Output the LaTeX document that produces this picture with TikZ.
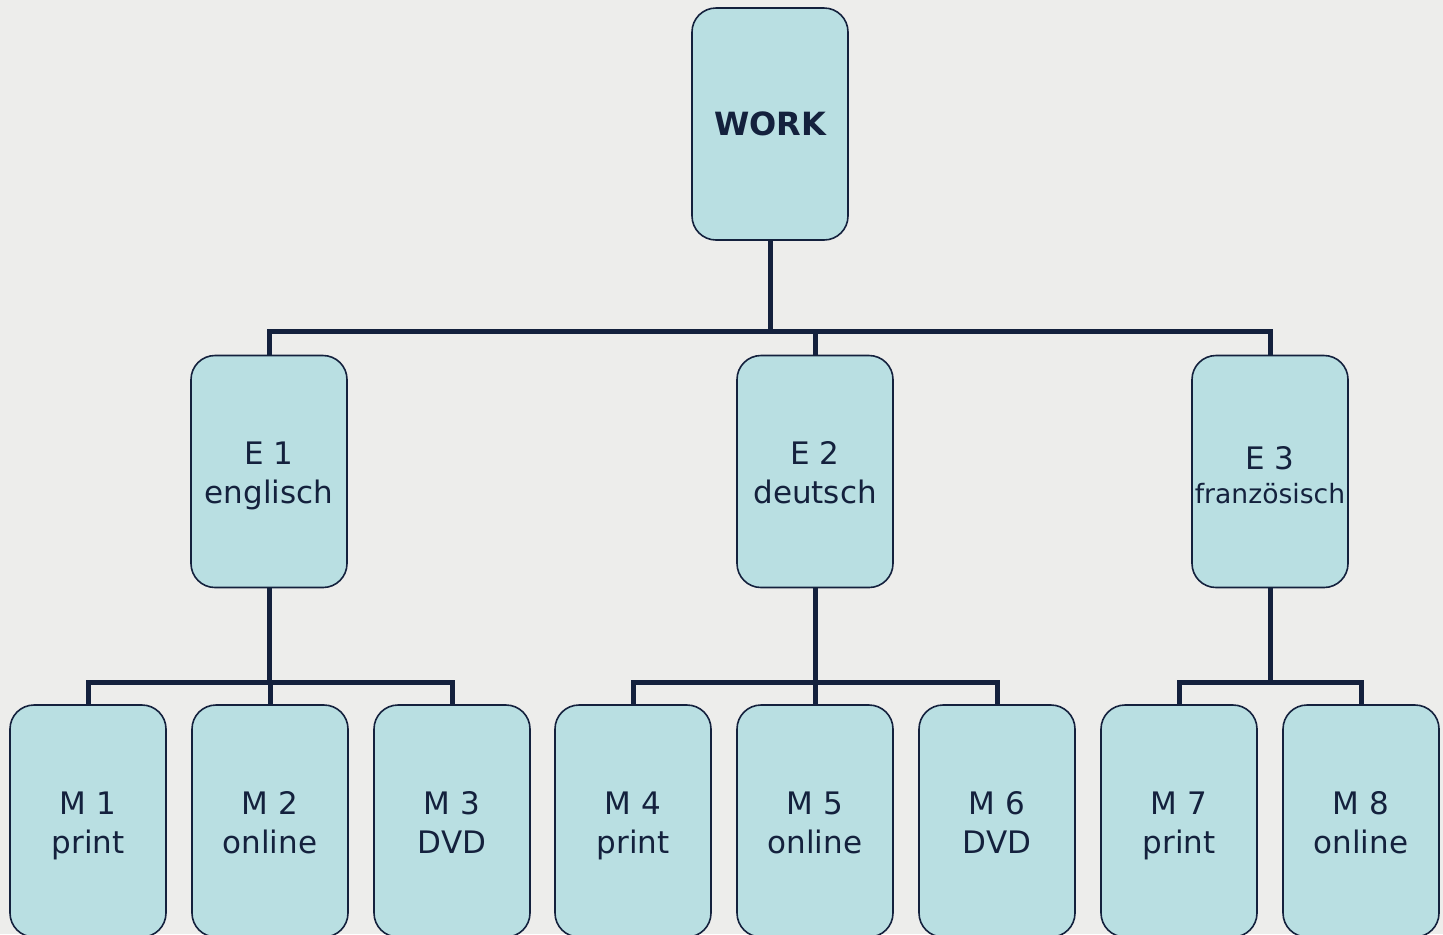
\documentclass[tikz,border=0pt]{standalone}
\usepackage{fontspec}
\setmainfont{DejaVu Sans}
\usetikzlibrary{calc}
\usetikzlibrary{positioning}

\definecolor{paper}{HTML}{EDEDEB}
\definecolor{boxfill}{HTML}{B9DFE2}
\definecolor{navy}{HTML}{14213D}
\newcommand{\topstrut}{\rule{0pt}{18.7pt}}

\begin{document}
\begin{tikzpicture} [x=0.5pt, y=-0.5pt,
  box/.style={draw=navy, line width=0.8pt, fill=boxfill, rounded corners=12pt,
    minimum width=78pt, minimum height=116pt, inner sep=0pt, align=center, text=navy,
    font=\fontsize{15.5}{19.5}\selectfont},
  link/.style={navy, line width=2.5pt}]
\fill[paper] (0,0) rectangle (1443,934);
\useasboundingbox (0,0) rectangle (1443,934);
\clip (0,0) rectangle (1443,934);
% top and second level
\node[box, font=\fontsize{16}{20}\selectfont\bfseries] (work) at (770,124) {WORK};
\node[box] (e1) at (269,471.5) {\topstrut E 1\\englisch\strut};
\node[box] (e2) at (815,471.5) {\topstrut E 2\\deutsch\strut};
\node[box, font=\fontsize{13.3}{17}\selectfont] (e3) at (1270,471.5) {\fontsize{15.5}{17}\selectfont\rule{0pt}{20pt}E 3\\französisch\strut};
% media level
\foreach \n/\x/\t in {1/88/print, 2/270/online, 3/452/DVD, 4/633/print,
                       5/815/online, 6/997/DVD, 7/1179/print, 8/1361/online} {
 \node[box] (m\n) at (\x,821) {\topstrut M \n\\\t\strut};
}
% connectors
\draw[link] (work.south) -- ++(0,91) coordinate (wj);
\foreach \e in {e1,e2,e3} \draw[link] (wj) -| (\e.north);
\draw[link] (e1.south) -- ++(0,94) coordinate (j1);
\foreach \m in {m1,m2,m3} \draw[link] (j1) -| (\m.north);
\draw[link] (e2.south) -- ++(0,94) coordinate (j2);
\foreach \m in {m4,m5,m6} \draw[link] (j2) -| (\m.north);
\draw[link] (e3.south) -- ++(0,94) coordinate (j3);
\foreach \m in {m7,m8} \draw[link] (j3) -| (\m.north);
\end{tikzpicture}
\end{document}
